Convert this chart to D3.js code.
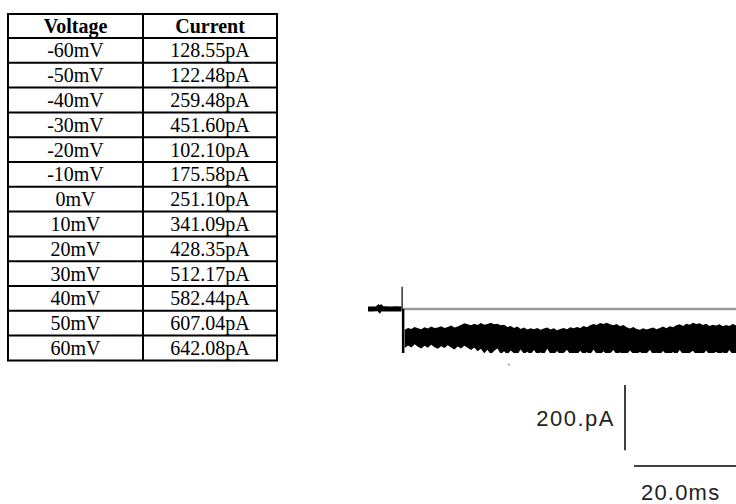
<!DOCTYPE html>
<html>
<head>
<meta charset="utf-8">
<script src="https://cdn.jsdelivr.net/npm/d3@7/dist/d3.min.js"></script>
<style>
  html, body { margin: 0; padding: 0; background: #fff; }
  svg { display: block; }
</style>
</head>
<body>
<svg id="chart" width="736" height="504"></svg>
<script>
// ---------------- DATA ----------------
const tableHeaders = ["Voltage", "Current"];
const voltages = ["-60mV","-50mV","-40mV","-30mV","-20mV","-10mV","0mV","10mV","20mV","30mV","40mV","50mV","60mV"];
const currents = ["128.55pA","122.48pA","259.48pA","451.60pA","102.10pA","175.58pA","251.10pA","341.09pA","428.35pA","512.17pA","582.44pA","607.04pA","642.08pA"];

// trace before the voltage step (ms, pA)
const preTime = [0, 1.0, 1.8, 2.0, 2.3, 2.6, 2.9, 3.4, 4.5, 5.5, 6.6];
const preCurrent = [0, 0, 1, 4, -2, 4, 0, 1, 0, 1, 0];
// step transient
const stepTime = 6.7;
const stepPeak = 68;
const stepTrough = -150;
// noisy current band after the step: upper and lower envelopes (ms, pA)
const bandTime = [7.2,7.85,8.5,9.15,9.8,10.45,11.1,11.75,12.4,13.05,13.7,14.35,15.0,15.65,16.3,16.95,17.6,18.25,18.9,19.55,20.2,20.85,21.5,22.15,22.8,23.45,24.1,24.75,25.4,26.05,26.7,27.35,28.0,28.65,29.3,29.95,30.6,31.25,31.9,32.55,33.2,33.85,34.5,35.15,35.8,36.45,37.1,37.75,38.4,39.05,39.7,40.35,41.0,41.65,42.3,42.95,43.6,44.25,44.9,45.55,46.2,46.85,47.5,48.15,48.8,49.45,50.1,50.75,51.4,52.05,52.7,53.35,54.0,54.65,55.3,55.95,56.6,57.25,57.9,58.55,59.2,59.85,60.5,61.15,61.8,62.45,63.1,63.75,64.4,65.05,65.7,66.35,67.0,67.65,68.3,68.95,69.6,70.25,70.9,71.55,72.2];
const bandTop = [-64,-58,-61,-55,-59,-62,-56,-60,-54,-58,-57,
  -53,-58,-55,-51,-57,-54,-49,-44,-47,-50,
  -45,-49,-43,-48,-46,-42,-47,-45,-50,-48,
  -55,-52,-58,-54,-61,-57,-63,-59,-62,-58,
  -64,-60,-57,-63,-59,-65,-61,-58,-62,-56,
  -59,-55,-58,-52,-56,-50,-46,-49,-43,-46,
  -42,-47,-50,-46,-53,-49,-56,-60,-55,-61,
  -64,-59,-63,-60,-57,-62,-58,-54,-59,-53,
  -56,-50,-47,-52,-45,-48,-42,-46,-44,-49,
  -45,-52,-48,-51,-47,-53,-49,-52,-46,-50];
const bandBottom = [-120,-112,-118,-108,-116,-121,-113,-119,-110,-117,-122,
  -114,-120,-111,-118,-124,-115,-121,-113,-119,-126,
  -118,-130,-122,-136,-125,-140,-128,-121,-138,-130,
  -140,-127,-136,-140,-124,-138,-131,-140,-126,-140,
  -133,-140,-122,-138,-140,-129,-140,-135,-125,-140,
  -137,-140,-128,-140,-132,-140,-124,-139,-140,-130,
  -140,-136,-126,-140,-133,-140,-140,-127,-138,-140,
  -131,-140,-137,-125,-140,-134,-140,-129,-140,-140,
  -132,-140,-126,-139,-140,-135,-128,-140,-136,-140,
  -127,-140,-138,-131,-140,-133,-140,-126,-140,-137];
// zero-current reference line
const zeroLine = [{t: 6.7, v: 0}, {t: 72.2, v: 0}];
// scale bars
const scaleCurrent = 200;   // pA
const scaleTime = 20;       // ms
const scaleCurrentLabel = "200.pA";
const scaleTimeLabel = "20.0ms";
// stray dot
const strayDot = {t: 27.5, v: -168};

// ---------------- CHART ----------------
const svg = d3.select("#chart");

// ---- Table ----
const tbl = {x0: 8, x1: 277, xDiv: 143, y0: 14, headH: 24, rowH: 24.8};
const tg = svg.append("g").attr("class", "table");
const nRows = voltages.length;
const yBottom = tbl.y0 + tbl.headH + nRows * tbl.rowH;
const rowY = d3.scaleLinear().domain([0, nRows]).range([tbl.y0 + tbl.headH, yBottom]);
const colCenters = [(tbl.x0 + tbl.xDiv) / 2, (tbl.xDiv + tbl.x1) / 2];
const serif = "'Liberation Serif', 'Times New Roman', serif";

const hLines = [tbl.y0].concat(d3.range(nRows + 1).map(i => rowY(i)));
tg.selectAll("line.h").data(hLines).join("line")
  .attr("class", "h")
  .attr("x1", tbl.x0 - 1).attr("x2", tbl.x1 + 1)
  .attr("y1", d => d).attr("y2", d => d)
  .attr("stroke", "#000").attr("stroke-width", 2);
tg.selectAll("line.v").data([tbl.x0, tbl.xDiv, tbl.x1]).join("line")
  .attr("class", "v")
  .attr("x1", d => d).attr("x2", d => d)
  .attr("y1", tbl.y0).attr("y2", yBottom)
  .attr("stroke", "#000").attr("stroke-width", 2);

tg.selectAll("text.head").data(tableHeaders).join("text")
  .attr("class", "head")
  .attr("x", (d, i) => colCenters[i])
  .attr("y", tbl.y0 + tbl.headH / 2 + 7)
  .attr("text-anchor", "middle")
  .attr("font-family", serif)
  .attr("font-weight", "bold")
  .attr("font-size", 20)
  .text(d => d);

const rows = voltages.map((v, i) => ({v, c: currents[i], i}));
tg.selectAll("text.volt").data(rows).join("text")
  .attr("class", "volt")
  .attr("x", colCenters[0])
  .attr("y", d => rowY(d.i) + tbl.rowH / 2 + 7)
  .attr("text-anchor", "middle")
  .attr("font-family", serif)
  .attr("font-size", 20)
  .text(d => d.v);
tg.selectAll("text.curr").data(rows).join("text")
  .attr("class", "curr")
  .attr("x", colCenters[1])
  .attr("y", d => rowY(d.i) + tbl.rowH / 2 + 7)
  .attr("text-anchor", "middle")
  .attr("font-family", serif)
  .attr("font-size", 20)
  .text(d => d.c);

// ---- Trace ----
const x = d3.scaleLinear().domain([0, 72.2]).range([368, 736]);
const y = d3.scaleLinear().domain([0, -135]).range([309, 353]);

const defs = svg.append("defs");
defs.append("clipPath").attr("id", "plotClip")
  .append("rect").attr("x", 360).attr("y", 260).attr("width", 376).attr("height", 353 - 260);

const trace = svg.append("g").attr("clip-path", "url(#plotClip)");

trace.append("path")
  .datum(zeroLine)
  .attr("d", d3.line().x(d => x(d.t)).y(d => y(d.v)))
  .attr("fill", "none").attr("stroke", "#9a9a9a").attr("stroke-width", 2.5);

trace.append("path")
  .datum(preTime.map((t, i) => ({t, v: preCurrent[i]})))
  .attr("d", d3.line().x(d => x(d.t)).y(d => y(d.v)))
  .attr("fill", "none").attr("stroke", "#000").attr("stroke-width", 5);

trace.append("line")
  .attr("x1", x(stepTime)).attr("x2", x(stepTime))
  .attr("y1", y(stepPeak)).attr("y2", y(0))
  .attr("stroke", "#333").attr("stroke-width", 1.5);
trace.append("line")
  .attr("x1", x(stepTime) + 1).attr("x2", x(stepTime) + 1)
  .attr("y1", y(0)).attr("y2", y(stepTrough))
  .attr("stroke", "#000").attr("stroke-width", 2.5);

const bandData = bandTime.map((t, i) => ({t, top: bandTop[i], bot: bandBottom[i]}));
trace.append("path")
  .datum(bandData)
  .attr("d", d3.area().x(d => x(d.t)).y0(d => y(d.bot)).y1(d => y(d.top)))
  .attr("fill", "#000");

svg.append("rect")
  .attr("x", x(strayDot.t)).attr("y", y(strayDot.v))
  .attr("width", 1.5).attr("height", 1.5).attr("fill", "#777");

// ---- Scale bars ----
const sans = "'Liberation Sans', Arial, sans-serif";
const sb = svg.append("g").attr("class", "scalebars");
const vBarX = 625, vBarTop = 385;
const vLen = y(-scaleCurrent) - y(0);
sb.append("line")
  .attr("x1", vBarX).attr("x2", vBarX)
  .attr("y1", vBarTop).attr("y2", vBarTop + vLen)
  .attr("stroke", "#000").attr("stroke-width", 1.5);
sb.append("text")
  .attr("x", vBarX - 10).attr("y", vBarTop + vLen / 2 + 8)
  .attr("text-anchor", "end")
  .attr("font-family", sans)
  .attr("font-size", 22).attr("letter-spacing", 1.5).attr("fill", "#222")
  .text(scaleCurrentLabel);

const hLen = x(scaleTime) - x(0);
const hBarY = 466, hBarX = 736 - hLen;
sb.append("line")
  .attr("x1", hBarX).attr("x2", hBarX + hLen)
  .attr("y1", hBarY).attr("y2", hBarY)
  .attr("stroke", "#000").attr("stroke-width", 1.5);
sb.append("text")
  .attr("x", 641).attr("y", hBarY + 34)
  .attr("text-anchor", "start")
  .attr("font-family", sans)
  .attr("font-size", 22).attr("letter-spacing", 1.2).attr("fill", "#222")
  .text(scaleTimeLabel);
</script>
</body>
</html>
